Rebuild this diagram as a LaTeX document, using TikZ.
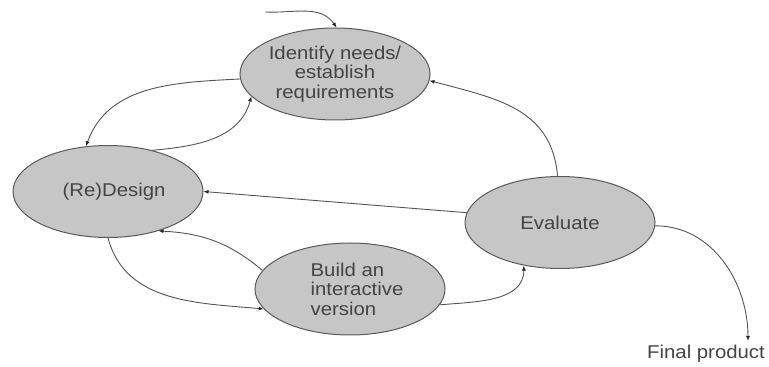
\documentclass[tikz,border=0pt]{standalone}
\usepackage{fontspec}
\setmainfont{Liberation Sans}[FakeStretch=1.1]
\usetikzlibrary{shapes.geometric,arrows.meta}
\definecolor{ellfill}{HTML}{C6C6C6}
\definecolor{ellline}{HTML}{5A5A5A}
\definecolor{txtcol}{HTML}{444444}
\definecolor{arrcol}{HTML}{555555}
\tikzset{
  stage/.style={ellipse, draw=ellline, fill=ellfill, line width=1pt,
    minimum width=190pt, minimum height=92pt, inner sep=0pt,
    text=txtcol, font=\fontsize{18.5}{19.5}\selectfont, align=center},
  flow/.style={draw=arrcol, line width=0.9pt, -{Latex[length=5pt,width=4pt,color=black!85]}},
  plain/.style={text=txtcol, font=\fontsize{18.5}{19.5}\selectfont, inner sep=0pt}
}
\begin{document}
\begin{tikzpicture}[x=1pt,y=1pt]
\useasboundingbox (0,0) rectangle (769,367);
\node[stage] (id) at (335,293) {Identify needs/\\establish\\requirements};
\node[stage] (de) at (108,175.5) {\hspace*{12pt}(Re)Design};
\node[stage, align=left] (bu) at (350,78) {\hspace*{14pt}Build an\\\hspace*{14pt}interactive\\\hspace*{14pt}version};
\node[stage] (ev) at (560,144.5) {Evaluate};
\node[plain] (fp) at (706,13) {Final product};
\coordinate (start) at (265,355);
\coordinate (fpend) at (748,26);

\draw[flow] (start) to[out=-3,in=125] (id.88);
\draw[flow] (id.183) to[out=183,in=70] (de.116);
\draw[flow] (de.43) to[out=5,in=-105] (id.195);
\draw[flow] (ev.174) -- (de.east);
\draw[flow] (ev.93) to[out=95,in=-15,looseness=1.1] (id.-4);
\draw[flow] (bu.168) to[out=140,in=-3] (de.-38);
\draw[flow] (de.-90) to[out=-75,in=175] (bu.193);
\draw[flow] (bu.-10) to[out=5,in=-90] (ev.230);
\draw[flow] (ev.-2) to[out=0,in=90] (fpend);
\end{tikzpicture}
\end{document}
